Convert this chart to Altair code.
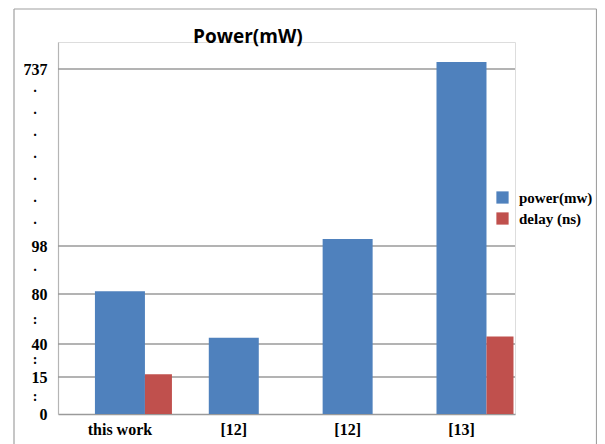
import altair as alt
import pandas as pd

# ---- data ----
keys = ["tw", "r12a", "r12b", "r13"]
labels = ["this work", "[12]", "[12]", "[13]"]
power = [81, 45, 123, 762]
delay = [17, None, None, 46]
series_names = ["power(mw)", "delay (ns)"]
colors = ["#4F81BD", "#C0504D"]

# broken y axis: labelled values, single dots and double dots between them
y_major = [0, 15, 40, 80, 98, 737]
y_dots = [89, 178, 258, 337, 417, 497, 577, 657]
y_colons = [7, 28, 60]
y_top = 834
grid_vals = [15, 40, 80, 98, 737]

rows = []
for k, p, d in zip(keys, power, delay):
    rows.append({"key": k, "series": series_names[0], "value": p})
    if d is not None:
        rows.append({"key": k, "series": series_names[1], "value": d})
df = pd.DataFrame(rows)

W, H = 457, 372

y_scale = alt.Scale(domain=y_major + [y_top],
                    range=[372, 335, 302, 252, 204, 27, 0],
                    nice=False, zero=False)
x_scale = alt.Scale(domain=keys, paddingInner=0.06, paddingOuter=0.037, align=1)
color_scale = alt.Scale(domain=series_names, range=colors)

x_label_expr = ""
for k, l in zip(keys, labels):
    x_label_expr += f"datum.value == '{k}' ? '{l}' : "
x_label_expr += "''"

major_str = ",".join(str(v) for v in y_major)
colon_str = ",".join(str(v) for v in y_colons)
is_major = f"indexof([{major_str}], datum.value) >= 0"
y_label_expr = (f"{is_major} ? datum.label : "
                f"indexof([{colon_str}], datum.value) >= 0 ? ':' : '\u00b7'")

serif = "Liberation Serif"

x_axis = alt.Axis(title=None, labelExpr=x_label_expr, labelFont=serif,
                  labelFontWeight="bold", labelFontSize=16, labelColor="black",
                  labelAngle=0, ticks=False, domainColor="#9a9a9a",
                  domainWidth=1.5, labelPadding=7, grid=False)
y_axis = alt.Axis(title=None, values=sorted(y_major + y_dots + y_colons),
                  format="d", labelExpr=y_label_expr, labelFont=serif,
                  labelFontWeight="bold",
                  labelFontSize={"condition": {"test": is_major, "value": 16},
                                 "value": 14},
                  labelColor="black",
                  ticks=False, domainColor="#b5b5b5", domainWidth=1.2,
                  labelPadding={"condition": {"test": is_major, "value": 11},
                                "value": 21},
                  labelOverlap=False, grid=False)

grid = alt.Chart(pd.DataFrame({"g": grid_vals})).mark_rule(
    color="#9a9a9a", strokeWidth=1.5
).encode(y=alt.Y("g:Q", scale=y_scale, axis=y_axis))

power_bars = alt.Chart(df).transform_filter(
    alt.datum.series == series_names[0]
).mark_bar(size=50).encode(
    x=alt.X("key:N", scale=x_scale, axis=x_axis, sort=keys),
    y=alt.Y("value:Q", scale=y_scale, axis=y_axis),
    color=alt.Color("series:N", scale=color_scale, sort=series_names,
                    legend=alt.Legend(title=None, orient="none", legendX=437,
                                      legendY=148, symbolType="square",
                                      symbolSize=150, symbolStrokeWidth=0,
                                      labelFont=serif, labelFontWeight="bold",
                                      labelFontSize=15, labelColor="black",
                                      labelOffset=9, rowPadding=5, padding=0)),
)

delay_bars = alt.Chart(df).transform_filter(
    alt.datum.series == series_names[1]
).mark_bar(size=27, xOffset=38.5).encode(
    x=alt.X("key:N", scale=x_scale, axis=x_axis, sort=keys),
    y=alt.Y("value:Q", scale=y_scale, axis=y_axis),
    color=alt.Color("series:N", scale=color_scale, sort=series_names),
)

frame_df = pd.DataFrame({"a": [0]})
frame_left = alt.Chart(frame_df).mark_rule(color="#a0a0a0", strokeWidth=1.2).encode(
    x=alt.value(-44), y=alt.value(-33), y2=alt.value(410))
frame_top = alt.Chart(frame_df).mark_rule(color="#a0a0a0", strokeWidth=1.2).encode(
    x=alt.value(-44), x2=alt.value(538.5), y=alt.value(-33))
frame_right = alt.Chart(frame_df).mark_rule(color="#a0a0a0", strokeWidth=1.2).encode(
    x=alt.value(538.5), y=alt.value(-33), y2=alt.value(410))

chart = alt.layer(
    grid, power_bars, delay_bars, frame_left, frame_top, frame_right
).properties(
    width=W, height=H,
    title=alt.TitleParams("Power(mW)", font="Open Sans", fontSize=19,
                          fontWeight="bold", color="black", anchor="start",
                          frame="group", dx=135, offset=-39),
    autosize=alt.AutoSizeParams(type="none"),
    padding={"left": 50, "top": 34, "right": 82, "bottom": 30},
).configure_view(stroke=None).configure(background="white")

chart.save("out.html", embed_options={"renderer": "svg", "actions": False})
